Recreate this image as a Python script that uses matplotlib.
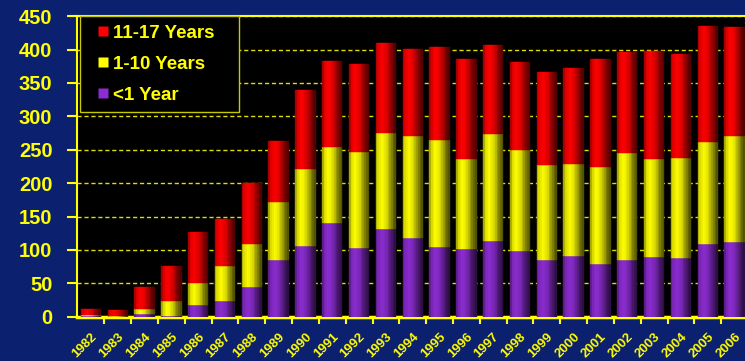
import matplotlib
matplotlib.use("Agg")
import matplotlib.pyplot as plt
from matplotlib.colors import to_rgb, to_hex
from matplotlib.lines import Line2D
from matplotlib.transforms import ScaledTranslation
import numpy as np

# Children by age group, per year
years = [str(y) for y in range(1982, 2007)]
under_1 = [1, 0, 4, 1, 18, 23, 45, 85, 106, 140, 103, 131, 118, 104, 102, 114, 99, 85, 91, 79, 85, 89, 88, 109, 112]
age_1_10 = [2, 1, 8, 22, 33, 53, 64, 86, 115, 114, 143, 144, 152, 160, 134, 159, 150, 142, 138, 145, 160, 147, 149, 152, 159]
age_11_17 = [8, 9, 33, 53, 76, 70, 91, 92, 118, 129, 133, 134, 131, 140, 150, 133, 133, 139, 144, 162, 151, 162, 156, 174, 162]

navy = '#0c2070'
gold = '#ffff00'
purple = '#8c2dd2'
yellow = '#ffff00'
red = '#ff0000'

plt.rcParams['font.family'] = ['Liberation Sans', 'DejaVu Sans']
plt.rcParams['font.weight'] = 'bold'

fig = plt.figure(figsize=(7.45, 3.61), dpi=100, facecolor=navy)
ax = fig.add_axes([0.104, 0.1227, 0.9, 0.8327])
ax.set_facecolor('black')

x = np.arange(len(years))
w = 0.76
u = np.array(under_1)
m = np.array(age_1_10)
o = np.array(age_11_17)

# each bar is drawn as vertical strips so it looks like a cylinder
n = 12
t = (np.arange(n) + 0.5) / n
shade = np.interp(t, [0, 0.12, 0.32, 0.55, 0.8, 1.0], [0.55, 0.85, 1.0, 0.85, 0.5, 0.28])
sw = w / n
for vals, base, col in [(u, 0, purple), (m, u, yellow), (o, u + m, red)]:
    rgb = np.array(to_rgb(col))
    for k in range(n):
        c = to_hex(np.clip(rgb * shade[k], 0, 1))
        ax.bar(x - w / 2 + (k + 0.5) * sw, vals, sw, bottom=base,
               facecolor=c, edgecolor=c, linewidth=0.3, zorder=3)

ax.set_xlim(-0.5, 24.5)
ax.set_ylim(0, 450)

ax.set_yticks(np.arange(0, 451, 50))
ax.yaxis.grid(True, color='#e0e000', linestyle=(0, (3, 2)), linewidth=1, zorder=1)
ax.set_axisbelow(True)
ax.set_xticks(x)
ax.set_xticklabels(years, rotation=45, ha='right', va='top', rotation_mode='anchor')
ax.set_xticks(x[:-1] + 0.5, minor=True)
shift = ScaledTranslation(-6 / 100, 0, fig.dpi_scale_trans)
for lab in ax.get_xticklabels():
    lab.set_transform(lab.get_transform() + shift)

ax.tick_params(axis='y', colors=gold, labelsize=14.5, length=7, width=1.5, pad=11)
ax.tick_params(axis='x', which='major', colors=gold, labelsize=9.5, length=0, pad=10)
ax.tick_params(axis='x', which='minor', colors=gold, length=5, width=1.5)

for s in ['left', 'top', 'bottom']:
    ax.spines[s].set_color(gold)
ax.spines['bottom'].set_linewidth(2.5)
ax.spines['left'].set_linewidth(1.5)
ax.spines['top'].set_linewidth(1.5)
ax.spines['right'].set_visible(False)

handles = [Line2D([], [], marker='s', linestyle='none', markersize=7.2,
                  markerfacecolor=c, markeredgecolor='none', label=lbl)
           for c, lbl in [(red, '11-17 Years'), (yellow, '1-10 Years'), (purple, '<1 Year')]]
leg = ax.legend(handles=handles, loc='upper left', bbox_to_anchor=(0.004, 0, 0.2373, 1.0),
                mode='expand', borderaxespad=0, fontsize=13.5, labelcolor=gold,
                handlelength=1.55, labelspacing=0.75, handletextpad=-0.24,
                facecolor='black', edgecolor='#c8c800', fancybox=False,
                framealpha=1, borderpad=0.45)
leg.get_frame().set_linewidth(1)
leg.set_zorder(6)

fig.savefig('out.png', dpi=100, facecolor=navy)
